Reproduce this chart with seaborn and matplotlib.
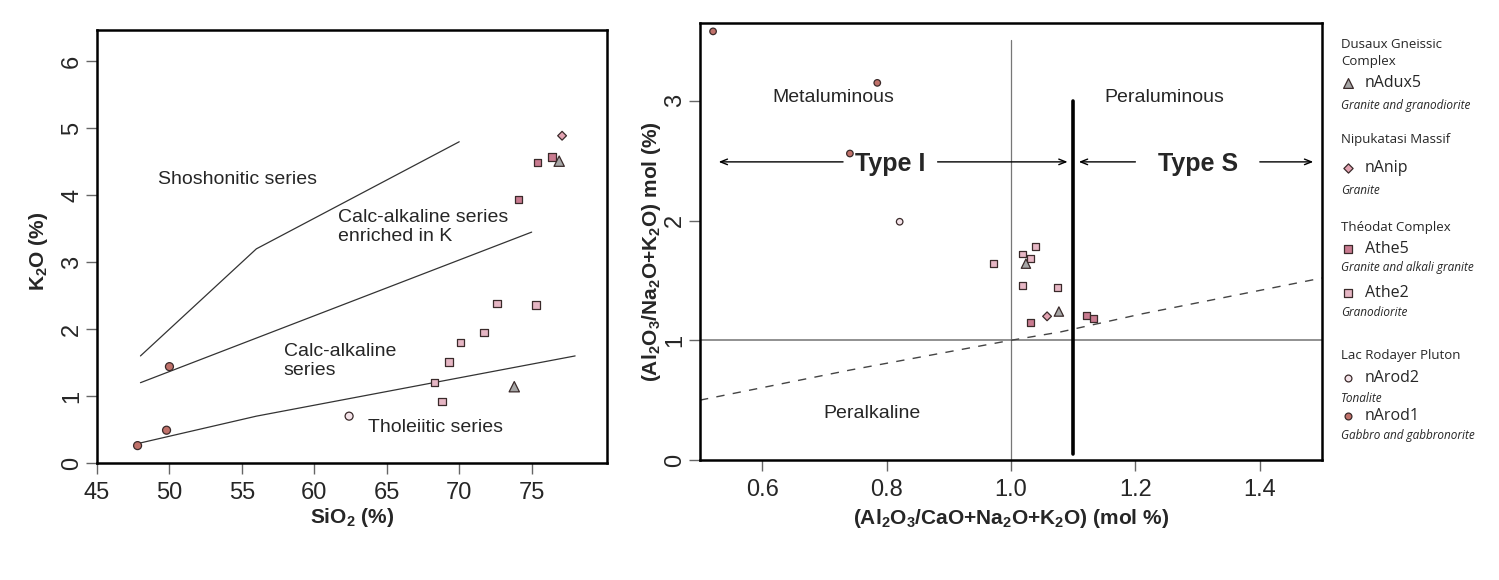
import pandas as pd
import seaborn as sns
import matplotlib.pyplot as plt

# Harker-type K2O vs SiO2 values
nArod1_sio2 = [47.8, 49.8, 50.0]
nArod1_k2o = [0.26, 0.49, 1.44]
nArod2_sio2 = [62.4]
nArod2_k2o = [0.70]
nAdux5_sio2 = [73.8, 76.9]
nAdux5_k2o = [1.14, 4.51]
nAnip_sio2 = [77.1]
nAnip_k2o = [4.89]
athe5_sio2 = [75.4, 76.4, 74.1]
athe5_k2o = [4.49, 4.57, 3.94]
athe2_sio2 = [72.6, 75.3, 71.7, 70.1, 69.3, 68.3, 68.8]
athe2_k2o = [2.38, 2.36, 1.95, 1.80, 1.51, 1.20, 0.92]

# A/CNK vs A/NK values
nArod1_acnk = [0.521, 0.785, 0.741]
nArod1_ank = [3.58, 3.15, 2.56]
nArod2_acnk = [0.821]
nArod2_ank = [1.99]
nAdux5_acnk = [1.024, 1.077]
nAdux5_ank = [1.64, 1.24]
nAnip_acnk = [1.058]
nAnip_ank = [1.20]
athe5_acnk = [1.031, 1.121, 1.133]
athe5_ank = [1.15, 1.21, 1.18]
athe2_acnk = [0.972, 1.018, 1.040, 1.031, 1.019, 1.075]
athe2_ank = [1.64, 1.72, 1.78, 1.68, 1.46, 1.44]

# series boundaries (left diagram)
shosho_x = [48, 56, 70]
shosho_y = [1.6, 3.2, 4.8]
highk_x = [48, 75]
highk_y = [1.2, 3.45]
thol_x = [48, 56, 78]
thol_y = [0.3, 0.7, 1.6]

# Shand boundaries (right diagram)
shand_x = [0.5, 0.74, 1.0, 1.08, 1.21, 1.5]
shand_y = [0.5, 0.75, 1.0, 1.07, 1.22, 1.52]

units = ["nAdux5", "nAnip", "Athe5", "Athe2", "nArod2", "nArod1"]
colors = {"nAdux5": "#a6a6a6", "nAnip": "#e3a3b2", "Athe5": "#c97b90",
          "Athe2": "#e6b6c4", "nArod2": "#f5e4ea", "nArod1": "#c0716a"}
markers = {"nAdux5": "^", "nAnip": "D", "Athe5": "s", "Athe2": "s",
           "nArod2": "o", "nArod1": "o"}
sizes_left = {"nAdux5": 55, "nAnip": 20, "Athe5": 28, "Athe2": 28,
              "nArod2": 33, "nArod1": 33}
sizes_right = {"nAdux5": 45, "nAnip": 20, "Athe5": 24, "Athe2": 24,
               "nArod2": 22, "nArod1": 22}

left = pd.concat([
    pd.DataFrame({"unit": "nArod1", "x": nArod1_sio2, "y": nArod1_k2o}),
    pd.DataFrame({"unit": "nArod2", "x": nArod2_sio2, "y": nArod2_k2o}),
    pd.DataFrame({"unit": "Athe2", "x": athe2_sio2, "y": athe2_k2o}),
    pd.DataFrame({"unit": "Athe5", "x": athe5_sio2, "y": athe5_k2o}),
    pd.DataFrame({"unit": "nAnip", "x": nAnip_sio2, "y": nAnip_k2o}),
    pd.DataFrame({"unit": "nAdux5", "x": nAdux5_sio2, "y": nAdux5_k2o}),
])
right = pd.concat([
    pd.DataFrame({"unit": "nArod1", "x": nArod1_acnk, "y": nArod1_ank}),
    pd.DataFrame({"unit": "nArod2", "x": nArod2_acnk, "y": nArod2_ank}),
    pd.DataFrame({"unit": "Athe2", "x": athe2_acnk, "y": athe2_ank}),
    pd.DataFrame({"unit": "Athe5", "x": athe5_acnk, "y": athe5_ank}),
    pd.DataFrame({"unit": "nAnip", "x": nAnip_acnk, "y": nAnip_ank}),
    pd.DataFrame({"unit": "nAdux5", "x": nAdux5_acnk, "y": nAdux5_ank}),
])

sns.set_style("ticks")
plt.rcParams["font.family"] = ["Liberation Sans", "DejaVu Sans"]
plt.rcParams["mathtext.fontset"] = "custom"
plt.rcParams["mathtext.rm"] = "Liberation Sans"
plt.rcParams["mathtext.bf"] = "Liberation Sans:bold"
plt.rcParams["mathtext.it"] = "Liberation Sans:italic"

fig = plt.figure(figsize=(14.99, 5.8), dpi=100)
ax1 = fig.add_axes([97 / 1499, 117 / 580, 510 / 1499, 433 / 580])
ax2 = fig.add_axes([700 / 1499, 120 / 580, 622 / 1499, 437 / 580])


def style_axes(ax):
    for s in ax.spines.values():
        s.set_visible(True)
        s.set_linewidth(1.8)
        s.set_color("black")
    ax.tick_params(direction="out", length=8, width=1, color="#666",
                   labelsize=17, pad=6)
    ax.tick_params(axis="y", pad=2)
    for lab in ax.get_yticklabels():
        lab.set_rotation(90)
        lab.set_va("center")


# ---- left panel
for xs, ys in [(shosho_x, shosho_y), (highk_x, highk_y), (thol_x, thol_y)]:
    ax1.plot(xs, ys, color="#333", lw=0.9, zorder=2)
sns.scatterplot(data=left, x="x", y="y", hue="unit", style="unit", size="unit",
                palette=colors, markers=markers, sizes=sizes_left,
                edgecolor="#3a2a2a", linewidth=0.9, legend=False, zorder=3, ax=ax1)
ax1.set_xlim(45, 80.2)
ax1.set_ylim(0, 6.47)
ax1.set_xticks([45, 50, 55, 60, 65, 70, 75])
ax1.set_yticks([0, 1, 2, 3, 4, 5, 6])
style_axes(ax1)
ax1.set_xlabel(r"Si$\mathbf{O_2}$ (%)", fontsize=15, fontweight="bold")
ax1.set_ylabel(r"$\mathbf{K_2}$O (%)", fontsize=15, fontweight="bold")
ax1.xaxis.set_label_coords(0.5, -0.1)
ax1.yaxis.set_label_coords(-0.092, 0.49)

ax1.text(49.2, 4.23, "Shoshonitic series", fontsize=14, va="center")
ax1.text(61.6, 3.52, "Calc-alkaline series\nenriched in K", fontsize=14,
         va="center", linespacing=1.15)
ax1.text(57.9, 1.52, "Calc-alkaline\nseries", fontsize=14, va="center",
         linespacing=1.15)
ax1.text(63.7, 0.53, "Tholeiitic series", fontsize=14, va="center")

# ---- right panel
ax2.axvline(1.0, ymin=0, ymax=3.51 / 3.65, color="#777", lw=0.9, zorder=1)
ax2.axhline(1.0, color="#888", lw=1.3, zorder=1)
ax2.plot([1.1, 1.1], [0.05, 3.0], color="black", lw=2.6, zorder=2)
ax2.plot(shand_x, shand_y, color="#444", lw=1, dashes=(6, 6), zorder=1)
sns.scatterplot(data=right, x="x", y="y", hue="unit", style="unit", size="unit",
                palette=colors, markers=markers, sizes=sizes_right,
                edgecolor="#3a2a2a", linewidth=0.9, legend=False, zorder=4, ax=ax2)
ax2.set_xlim(0.5, 1.5)
ax2.set_ylim(0, 3.65)
ax2.set_xticks([0.6, 0.8, 1.0, 1.2, 1.4])
ax2.set_xticklabels(["0.6", "0.8", "1.0", "1.2", "1.4"])
ax2.set_yticks([0, 1, 2, 3])
style_axes(ax2)
ax2.set_xlabel(r"$\mathbf{(Al_2O_3/CaO{+}Na_2O{+}K_2O)}$ (mol %)", fontsize=15,
               fontweight="bold")
ax2.set_ylabel(r"$\mathbf{(Al_2O_3/Na_2O{+}K_2O)}$ mol (%)", fontsize=15,
               fontweight="bold")
ax2.xaxis.set_label_coords(0.5, -0.107)
ax2.yaxis.set_label_coords(-0.06, 0.476)

ax2.text(0.714, 3.03, "Metaluminous", fontsize=14, ha="center", va="center")
ax2.text(1.246, 3.03, "Peraluminous", fontsize=14, ha="center", va="center")
ax2.text(0.777, 0.39, "Peralkaline", fontsize=14, ha="center", va="center")
ax2.text(0.806, 2.47, "Type I", fontsize=18, fontweight="bold", ha="center", va="center")
ax2.text(1.30, 2.47, "Type S", fontsize=18, fontweight="bold", ha="center", va="center")

arrow_y = 2.49
arrows = [(0.730, 0.530), (0.882, 1.091), (1.200, 1.109), (1.400, 1.486)]
for start, end in arrows:
    ax2.annotate("", xy=(end, arrow_y), xytext=(start, arrow_y),
                 arrowprops=dict(arrowstyle="->,head_length=0.5,head_width=0.2",
                                 lw=1, color="black", shrinkA=0, shrinkB=0))

# ---- legend panel
axl = fig.add_axes([1325 / 1499, 0, 174 / 1499, 1])
axl.set_xlim(1325, 1499)
axl.set_ylim(580, 0)
axl.axis("off")

leg_font = ["Open Sans", "DejaVu Sans"]
groups = [("Dusaux Gneissic\nComplex", 53), ("Nipukatasi Massif", 139),
          ("Théodat Complex", 227), ("Lac Rodayer Pluton", 355)]
for title, gy in groups:
    axl.text(1341, gy, title, fontsize=9.5, va="center", family=leg_font,
             linespacing=1.3)

leg_units = ["nAdux5", "nAnip", "Athe5", "Athe2", "nArod2", "nArod1"]
leg_rows = [83, 168, 249, 293, 378, 416]
leg_rocks = ["Granite and granodiorite", "Granite", "Granite and alkali granite",
             "Granodiorite", "Tonalite", "Gabbro and gabbronorite"]
leg_rock_rows = [106, 191, 268, 312, 398, 435]
for u, ry, rock, rky in zip(leg_units, leg_rows, leg_rocks, leg_rock_rows):
    axl.scatter([1348], [ry], marker=markers[u], s=sizes_right[u] * 1.1,
                color=colors[u], edgecolor="#3a2a2a", linewidth=0.9)
    axl.text(1365, ry, u, fontsize=11.5, va="center", family=leg_font)
    axl.text(1341, rky, rock, fontsize=8.5, style="italic", va="center",
             family=leg_font)

fig.savefig("out.png", dpi=100)
